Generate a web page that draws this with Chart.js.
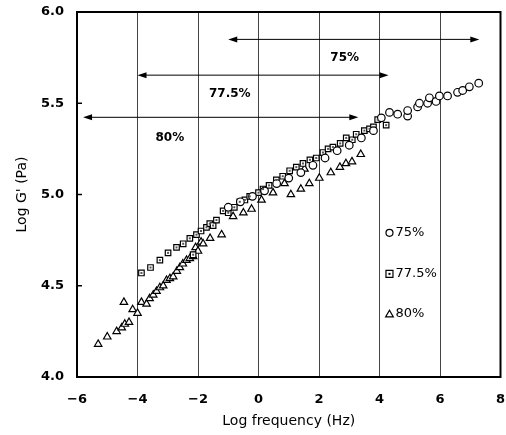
<!DOCTYPE html>
<html lang="en">
<head>
    <meta charset="UTF-8">
    <title>Log G' vs Log frequency</title>
    <script src="https://cdn.jsdelivr.net/npm/chart.js"></script>
    <style>
        body {
            margin: 0;
            padding: 0;
            background: #fff;
        }
        #wrap {
            width: 506px;
            height: 435px;
        }
    </style>
</head>
<body>
    <div id="wrap"><canvas id="chart"></canvas></div>

    <script>
        // Data: [log frequency, log G']
        const circles75 = [
            [-1.0, 4.93], [-0.6, 4.96], [-0.2, 4.99], [0.2, 5.02], [0.6, 5.06], [1.0, 5.09],
            [1.4, 5.12], [1.8, 5.16], [2.2, 5.20], [2.6, 5.24], [3.0, 5.27], [3.4, 5.31],
            [3.8, 5.35], [4.06, 5.42], [4.33, 5.45], [4.60, 5.44], [4.93, 5.43], [4.93, 5.46],
            [5.26, 5.48], [5.32, 5.50], [5.59, 5.50], [5.65, 5.53], [5.87, 5.51], [5.98, 5.54],
            [6.25, 5.54], [6.58, 5.56], [6.75, 5.57], [6.97, 5.59], [7.28, 5.61]
        ];
        const squares775 = [
            [-3.87, 4.57], [-3.57, 4.60], [-3.26, 4.64], [-2.99, 4.68], [-2.71, 4.71], [-2.49, 4.73],
            [-2.27, 4.76], [-2.16, 4.67], [-2.05, 4.78], [-1.9, 4.80], [-1.72, 4.82], [-1.61, 4.84],
            [-1.5, 4.83], [-1.39, 4.86], [-1.17, 4.91], [-1.0, 4.90], [-0.8, 4.93], [-0.62, 4.96],
            [-0.45, 4.97], [-0.29, 4.99], [0.0, 5.01], [0.15, 5.03], [0.35, 5.05], [0.59, 5.08],
            [0.8, 5.10], [1.03, 5.13], [1.25, 5.15], [1.47, 5.17], [1.7, 5.19], [1.91, 5.20],
            [2.13, 5.23], [2.3, 5.25], [2.46, 5.26], [2.7, 5.28], [2.90, 5.31], [3.1, 5.30],
            [3.23, 5.33], [3.5, 5.35], [3.67, 5.36], [3.8, 5.37], [3.94, 5.41], [4.22, 5.38]
        ];
        const triangles80 = [
            [-5.30, 4.18], [-5.0, 4.22], [-4.69, 4.25], [-4.52, 4.27], [-4.42, 4.29], [-4.28, 4.30],
            [-4.45, 4.41], [-4.16, 4.37], [-4.0, 4.35], [-3.87, 4.41], [-3.70, 4.40], [-3.6, 4.43],
            [-3.48, 4.45], [-3.37, 4.47], [-3.26, 4.49], [-3.15, 4.50], [-3.04, 4.53], [-2.93, 4.54],
            [-2.82, 4.55], [-2.7, 4.58], [-2.6, 4.60], [-2.5, 4.62], [-2.38, 4.64], [-2.27, 4.65],
            [-2.16, 4.66], [-2.08, 4.71], [-2.0, 4.69], [-1.9, 4.74], [-1.83, 4.73], [-1.6, 4.76],
            [-1.22, 4.78], [-0.84, 4.88], [-0.5, 4.90], [-0.23, 4.92], [0.1, 4.97], [0.48, 5.01],
            [0.86, 5.06], [1.52, 5.14], [1.07, 5.00], [1.40, 5.03], [1.68, 5.06], [2.01, 5.09],
            [2.39, 5.12], [2.69, 5.15], [2.89, 5.17], [3.09, 5.18], [3.38, 5.22]
        ];

        const seriesLabels = ['75%', '77.5%', '80%'];

        // Shift ranges shown by the arrows at the top
        const arrowFrom = [-1.0, -4.0, -5.8];
        const arrowTo = [7.3, 4.3, 3.3];
        const arrowLevel = [5.85, 5.654, 5.423];
        const arrowTextX = [2.85, -0.95, -2.93];
        const arrowTextY = [5.75, 5.55, 5.31];

        // Legend placed inside the plot (data coordinates)
        const legendX = 4.33;
        const legendY = [4.79, 4.565, 4.345];

        const xTicks = [-6, -4, -2, 0, 2, 4, 6, 8];
        const yTicks = [4.0, 4.5, 5.0, 5.5, 6.0];

        const toPoints = arr => arr.map(p => ({x: p[0], y: p[1]}));

        function drawSymbol(ctx, shape, x, y, r) {
            ctx.save();
            ctx.fillStyle = '#fff';
            ctx.strokeStyle = '#000';
            ctx.lineWidth = 1.2;
            ctx.beginPath();
            if (shape === 'circle') {
                ctx.arc(x, y, r, 0, Math.PI * 2);
            } else if (shape === 'square') {
                ctx.rect(x - r, y - r, r * 2, r * 2);
            } else {
                ctx.moveTo(x, y - r * 1.1);
                ctx.lineTo(x + r * 1.1, y + r * 0.8);
                ctx.lineTo(x - r * 1.1, y + r * 0.8);
                ctx.closePath();
            }
            ctx.fill();
            ctx.stroke();
            if (shape === 'square') {
                ctx.fillStyle = '#000';
                ctx.fillRect(x - 1, y - 1, 2, 2);
            }
            ctx.restore();
        }

        // Draws the plot frame, arrows, labels and legend
        const extrasPlugin = {
            id: 'extras',
            afterDatasetsDraw(chart) {
                const {ctx, chartArea: a, scales: {x, y}} = chart;
                ctx.save();

                // inner tick marks on the left axis
                ctx.strokeStyle = '#000';
                ctx.lineWidth = 1.5;
                [4.5, 5.0, 5.5].forEach(v => {
                    const py = y.getPixelForValue(v);
                    ctx.beginPath();
                    ctx.moveTo(a.left, py);
                    ctx.lineTo(a.left + 5, py);
                    ctx.stroke();
                });

                // frame
                ctx.lineWidth = 2;
                ctx.strokeRect(a.left, a.top, a.right - a.left, a.bottom - a.top);

                // arrows
                ctx.lineWidth = 1;
                ctx.fillStyle = '#000';
                arrowLevel.forEach((lv, i) => {
                    const py = y.getPixelForValue(lv);
                    const x1 = x.getPixelForValue(arrowFrom[i]);
                    const x2 = x.getPixelForValue(arrowTo[i]);
                    ctx.beginPath();
                    ctx.moveTo(x1 + 6, py);
                    ctx.lineTo(x2 - 6, py);
                    ctx.stroke();
                    ctx.beginPath();
                    ctx.moveTo(x1, py);
                    ctx.lineTo(x1 + 9, py - 3);
                    ctx.lineTo(x1 + 9, py + 3);
                    ctx.closePath();
                    ctx.fill();
                    ctx.beginPath();
                    ctx.moveTo(x2, py);
                    ctx.lineTo(x2 - 9, py - 3);
                    ctx.lineTo(x2 - 9, py + 3);
                    ctx.closePath();
                    ctx.fill();

                    ctx.font = 'bold 12px "DejaVu Sans"';
                    ctx.textAlign = 'center';
                    ctx.textBaseline = 'middle';
                    ctx.fillText(seriesLabels[i], x.getPixelForValue(arrowTextX[i]), y.getPixelForValue(arrowTextY[i]));
                });

                // legend
                const shapes = ['circle', 'square', 'triangle'];
                ctx.font = '13px "DejaVu Sans"';
                ctx.textAlign = 'left';
                ctx.textBaseline = 'middle';
                legendY.forEach((lv, i) => {
                    const px = x.getPixelForValue(legendX);
                    const py = y.getPixelForValue(lv);
                    drawSymbol(ctx, shapes[i], px, py, 3.5);
                    ctx.fillStyle = '#000';
                    ctx.fillText(seriesLabels[i], px + 6, py);
                });
                ctx.restore();
            }
        };

        // squares get a tiny dot in the middle like the scan
        const squareDots = {
            id: 'squareDots',
            afterDatasetsDraw(chart) {
                const meta = chart.getDatasetMeta(1);
                const ctx = chart.ctx;
                ctx.save();
                ctx.fillStyle = '#555';
                meta.data.forEach(pt => ctx.fillRect(pt.x - 1, pt.y - 1, 2, 2));
                ctx.restore();
            }
        };

        const baseStyle = {
            backgroundColor: '#fff',
            borderColor: '#000',
            borderWidth: 1.2,
            pointRadius: 3.8,
            pointHoverRadius: 3.8
        };

        new Chart(document.getElementById('chart'), {
            type: 'scatter',
            data: {
                datasets: [
                    Object.assign({label: seriesLabels[0], data: toPoints(circles75), pointStyle: 'circle'}, baseStyle),
                    Object.assign({label: seriesLabels[1], data: toPoints(squares775), pointStyle: 'rect'}, baseStyle, {pointRadius: 3.9}),
                    Object.assign({label: seriesLabels[2], data: toPoints(triangles80), pointStyle: 'triangle'}, baseStyle, {pointRadius: 4.3})
                ]
            },
            options: {
                responsive: true,
                maintainAspectRatio: false,
                animation: false,
                layout: {padding: {left: 0, right: 5, top: 12, bottom: 0}},
                plugins: {
                    legend: {display: false},
                    tooltip: {enabled: false}
                },
                scales: {
                    x: {
                        type: 'linear',
                        min: -6,
                        max: 8,
                        afterBuildTicks: axis => { axis.ticks = xTicks.map(v => ({value: v})); },
                        afterFit: axis => {
                            axis.height = 58;
                            axis.paddingLeft = 0;
                            axis.paddingRight = 0;
                        },
                        border: {display: false},
                        grid: {
                            drawTicks: false,
                            lineWidth: 1,
                            color: c => (c.tick && c.tick.value > -6 && c.tick.value < 8) ? '#444' : 'rgba(0,0,0,0)'
                        },
                        ticks: {
                            padding: 15,
                            color: '#000',
                            font: {family: 'DejaVu Sans', size: 13, weight: 'bold'},
                            callback: v => v < 0 ? '\u2212' + Math.abs(v) : String(v)
                        },
                        title: {
                            display: true,
                            text: 'Log frequency (Hz)',
                            color: '#000',
                            font: {family: 'DejaVu Sans', size: 14},
                            padding: {bottom: 5}
                        }
                    },
                    y: {
                        type: 'linear',
                        min: 4,
                        max: 6,
                        afterBuildTicks: axis => { axis.ticks = yTicks.map(v => ({value: v})); },
                        afterFit: axis => {
                            axis.width = 77;
                            axis.paddingTop = 0;
                            axis.paddingBottom = 0;
                        },
                        border: {display: false},
                        grid: {display: false, drawTicks: false},
                        ticks: {
                            padding: 13,
                            color: '#000',
                            font: {family: 'DejaVu Sans', size: 13, weight: 'bold'},
                            callback: v => Number(v).toFixed(1)
                        },
                        title: {
                            display: true,
                            text: "Log G' (Pa)",
                            color: '#000',
                            font: {family: 'DejaVu Sans', size: 14},
                            padding: {top: 14}
                        }
                    }
                }
            },
            plugins: [squareDots, extrasPlugin]
        });
    </script>
</body>
</html>
